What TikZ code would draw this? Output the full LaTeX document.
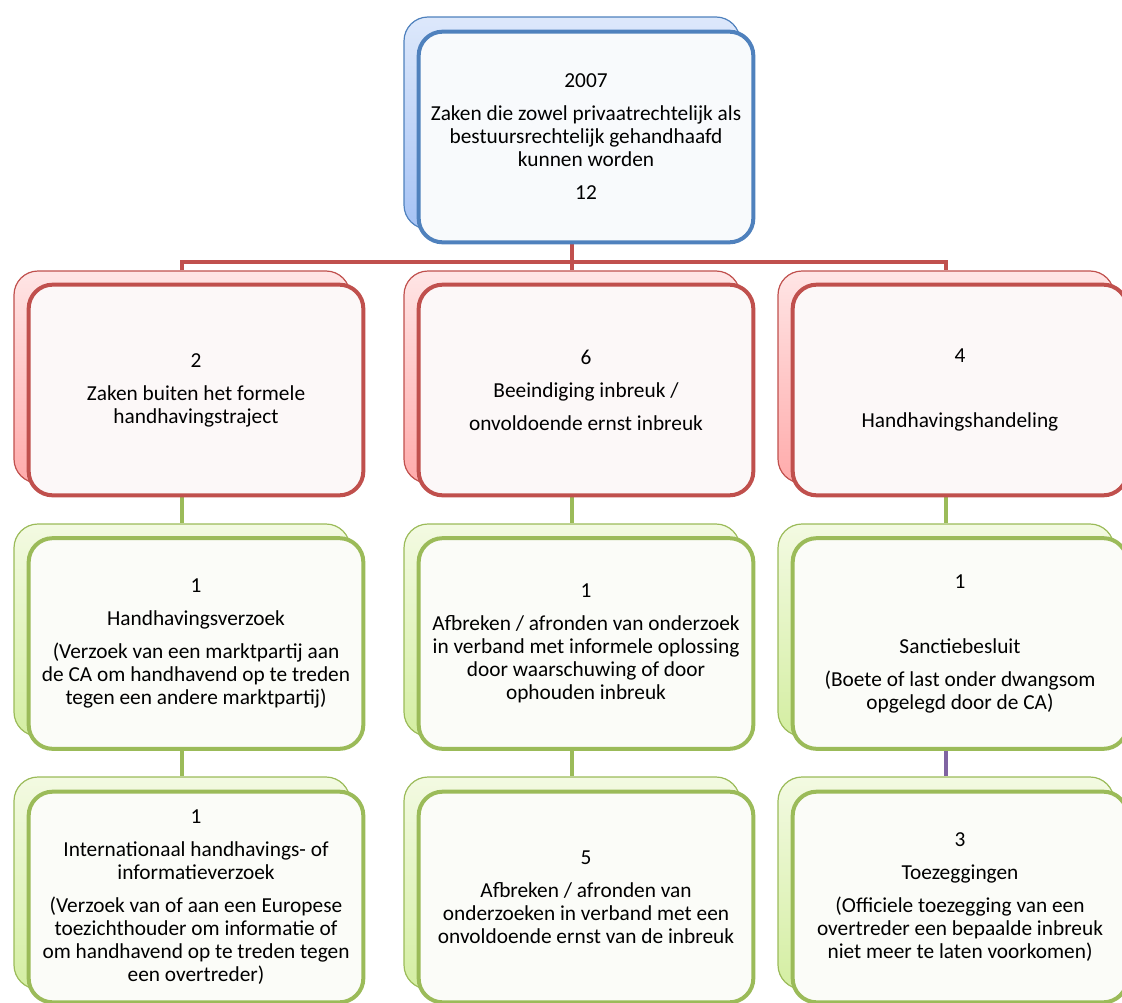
\documentclass[tikz,border=0pt]{standalone}
\usepackage{fontspec}
\setmainfont{Carlito}
\usepackage{tikz}
\definecolor{cablue}{HTML}{4F81BD}
\definecolor{cared}{HTML}{C0504D}
\definecolor{cagreen}{HTML}{9BBB59}
\definecolor{capurple}{HTML}{8064A2}
\definecolor{bluetop}{HTML}{DDE8FB}
\definecolor{bluebot}{HTML}{A6C3F5}
\definecolor{redtop}{HTML}{FFE5E5}
\definecolor{redbot}{HTML}{FFABAB}
\definecolor{greentop}{HTML}{F3FAE2}
\definecolor{greenbot}{HTML}{D4EEA2}
\tikzset{
    every node/.style={font=\fontsize{16}{17.25}\selectfont, align=center},
    backbox/.style={draw=#1, line width=0.9pt, rounded corners=18pt,
        minimum width=252pt, minimum height=159pt},
    frontbox/.style={draw=#1, line width=3pt, rounded corners=18pt, fill=#1!4!white,
        minimum width=251pt, minimum height=158pt},
    bluebk/.style={backbox=cablue, top color=bluetop, bottom color=bluebot},
    redbk/.style={backbox=cared, top color=redtop, bottom color=redbot},
    greenbk/.style={backbox=cagreen, top color=greentop, bottom color=greenbot},
    link/.style={line width=3pt, draw=#1}
}

\begin{document}
\begin{tikzpicture}[x=0.75pt, y=-0.75pt]
            \useasboundingbox (0,0) rectangle (1122,1003);
            \coordinate (bus) at (572,262);
            
            % back boxes, placed first (invisible) so the links can use them
            \node[bluebk, opacity=0] (topb) at (572,123) {};
            \node[redbk, opacity=0] (lrb) at (182,377) {};
            \node[redbk, opacity=0] (mrb) at (572,377) {};
            \node[redbk, opacity=0] (rrb) at (946,377) {};
            \node[greenbk, opacity=0] (lg1b) at (182,630) {};
            \node[greenbk, opacity=0] (mg1b) at (572,630) {};
            \node[greenbk, opacity=0] (rg1b) at (946,630) {};
            \node[greenbk, opacity=0] (lg2b) at (182,883) {};
            \node[greenbk, opacity=0] (mg2b) at (572,883) {};
            \node[greenbk, opacity=0] (rg2b) at (946,883) {};
            
            % connectors
            \draw[link=cared] (topb.south) -- (mrb.north);
            \draw[link=cared] (lrb.north) |- (bus) -| (rrb.north);
            \draw[link=cagreen] (lrb.south) -- (lg1b.north);
            \draw[link=cagreen] (mrb.south) -- (mg1b.north);
            \draw[link=cagreen] (rrb.south) -- (rg1b.north);
            \draw[link=cagreen] (lg1b.south) -- (lg2b.north);
            \draw[link=cagreen] (mg1b.south) -- (mg2b.north);
            \draw[link=capurple] (rg1b.south) -- (rg2b.north);
            
            % top
            \node[bluebk] at (topb) {};
            \node[frontbox=cablue] (top) at (586,137) {2007\\[7.5pt]Zaken die zowel privaatrechtelijk als\\bestuursrechtelijk gehandhaafd\\kunnen worden\\[7.5pt]12};
            
            % second row
            \node[redbk] at (lrb) {};
            \node[frontbox=cared] (lr) at (196,390) {2\\[7.5pt]Zaken buiten het formele\\handhavingstraject};
            \node[redbk] at (mrb) {};
            \node[frontbox=cared] (mr) at (586,390) {6\\[7.5pt]Beeindiging inbreuk /\\[7.5pt]onvoldoende ernst inbreuk};
            \node[redbk] at (rrb) {};
            \node[frontbox=cared] (rr) at (960,390) {4\\[31.5pt]Handhavingshandeling};
            
            % third row
            \node[greenbk] at (lg1b) {};
            \node[frontbox=cagreen] (lg1) at (196,643.5) {1\\[7.5pt]Handhavingsverzoek\\[7.5pt](Verzoek van een marktpartij aan\\de CA om handhavend op te treden\\tegen een andere marktpartij)};
            \node[greenbk] at (mg1b) {};
            \node[frontbox=cagreen] (mg1) at (586,643.5) {1\\[7.5pt]Afbreken / afronden van onderzoek\\in verband met informele oplossing\\door waarschuwing of door\\ophouden inbreuk};
            \node[greenbk] at (rg1b) {};
            \node[frontbox=cagreen] (rg1) at (960,643.5) {1\\[31.5pt]Sanctiebesluit\\[7.5pt](Boete of last onder dwangsom\\opgelegd door de CA)};
            
            % fourth row
            \node[greenbk] at (lg2b) {};
            \node[frontbox=cagreen] (lg2) at (196,897) {1\\[7.5pt]Internationaal handhavings- of\\informatieverzoek\\[7.5pt](Verzoek van of aan een Europese\\toezichthouder om informatie of\\om handhavend op te treden tegen\\een overtreder)};
            \node[greenbk] at (mg2b) {};
            \node[frontbox=cagreen] (mg2) at (586,897) {5\\[7.5pt]Afbreken / afronden van\\onderzoeken in verband met een\\onvoldoende ernst van de inbreuk};
            \node[greenbk] at (rg2b) {};
            \node[frontbox=cagreen] (rg2) at (960,897) {3\\[7.5pt]Toezeggingen\\[7.5pt](Officiele toezegging van een\\overtreder een bepaalde inbreuk\\niet meer te laten voorkomen)};
        \end{tikzpicture}
\end{document}
